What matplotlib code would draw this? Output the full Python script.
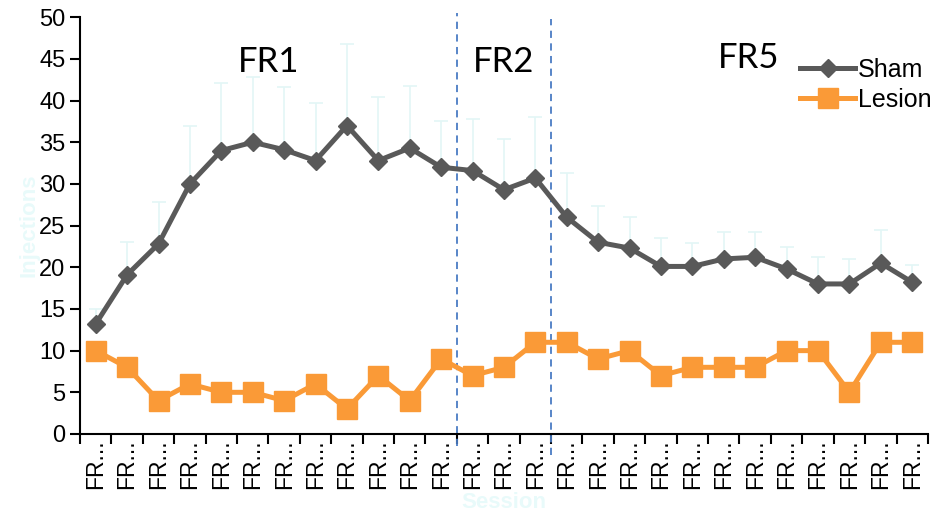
import numpy as np
import matplotlib
matplotlib.use("Agg")
import matplotlib.pyplot as plt

# ---------------------------------------------------------
# Data
# ---------------------------------------------------------
sessions = ["FR..."] * 27

sham = [13.2, 19.1, 22.8, 30.0, 34.0, 35.0, 34.1, 32.8, 37.0, 32.8, 34.3, 32.0,
        31.6, 29.3, 30.7, 26.0, 23.0, 22.3, 20.1, 20.1, 21.0, 21.2, 19.8, 18.0,
        18.0, 20.5, 18.2]
sham_top = [15.0, 23.0, 27.8, 37.0, 42.1, 42.8, 41.6, 39.7, 46.8, 40.4, 41.8, 37.6,
            37.8, 35.4, 38.0, 31.3, 27.3, 26.0, 23.5, 22.9, 24.2, 24.2, 22.4, 21.2,
            21.0, 24.5, 20.3]
lesion = [10, 8, 4, 6, 5, 5, 4, 6, 3, 7, 4, 9,
          7, 8, 11, 11, 9, 10, 7, 8, 8, 8, 10, 10, 5, 11, 11]

phase_labels = ["FR1", "FR2", "FR5"]
phase_breaks = [11.5, 14.5]

# ---------------------------------------------------------
# Figure
# ---------------------------------------------------------
plt.rcParams['font.family'] = ['Liberation Sans', 'DejaVu Sans']

fig = plt.figure(figsize=(9.39, 5.21), dpi=100)
ax = fig.add_axes([0.0852, 0.167, 0.903, 0.800])

x = np.arange(len(sessions))
sham = np.array(sham)
err_up = np.array(sham_top) - sham

ax.errorbar(x, sham, yerr=[np.zeros_like(err_up), err_up], fmt='none',
            ecolor='#e3f6f6', elinewidth=1.2, capsize=5, capthick=1.2, zorder=1)

ax.plot(x, sham, color='#595959', lw=3.6, marker='D', markersize=9.5,
        label='Sham', zorder=3)
ax.plot(x, lesion, color='#fa9a37', lw=3.6, marker='s', markersize=14,
        label='Lesion', zorder=3)

# phase separators
ax.plot([phase_breaks[0]] * 2, [-0.03, 1.01], transform=ax.get_xaxis_transform(),
        color='#4a7cc4', lw=1.3, ls=(0, (4, 3)), clip_on=False, zorder=2)
ax.plot([phase_breaks[1]] * 2, [-0.05, 0.995], transform=ax.get_xaxis_transform(),
        color='#4a7cc4', lw=1.3, ls=(0, (4, 3)), clip_on=False, zorder=2)

fr_font = dict(fontsize=25, family=['Lato', 'DejaVu Sans'], ha='center', va='center')
ax.text(5.5, 44.6, phase_labels[0], **fr_font)
ax.text(13.0, 44.6, phase_labels[1], **fr_font)
ax.text(20.8, 45.1, phase_labels[2], **fr_font)

ax.set_xlim(-0.5, len(sessions) - 0.5)
ax.set_ylim(0, 50)
ax.set_yticks(np.arange(0, 51, 5))

# Excel-style ticks between categories, labels at centres
ax.set_xticks(np.arange(-0.5, len(sessions)), labels=[])
ax.set_xticks(x, labels=sessions, minor=True, rotation=90)
ax.tick_params(axis='x', which='major', direction='out', length=7, width=1.5)
ax.tick_params(axis='x', which='minor', length=0, labelsize=16.5, pad=4)
ax.tick_params(axis='y', direction='out', length=7, width=1.5, labelsize=17)

for s in ['top', 'right']:
    ax.spines[s].set_visible(False)
for s in ['left', 'bottom']:
    ax.spines[s].set_linewidth(1.5)

ax.set_ylabel("Injections", fontsize=16, fontweight='bold', color='#e8fafa',
              labelpad=0)
ax.set_xlabel("Session", fontsize=16, fontweight='bold', color='#e8fafa',
              labelpad=2)

ax.legend(loc='upper right', bbox_to_anchor=(1.016, 0.927), frameon=False,
          fontsize=18, handlelength=2.2, handletextpad=0.1, labelspacing=0.25,
          borderaxespad=0)

fig.savefig("out.png", dpi=100)
